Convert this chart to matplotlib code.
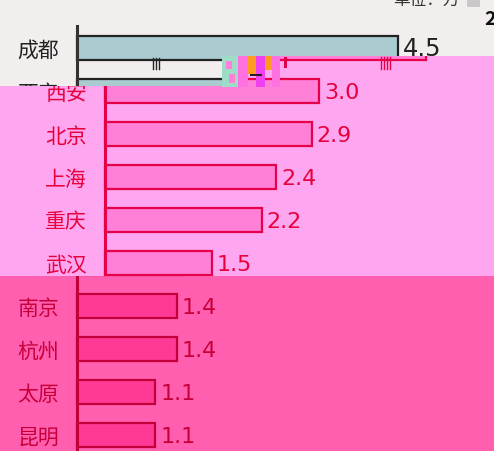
import matplotlib
matplotlib.use("Agg")
import matplotlib.pyplot as plt
from matplotlib.patches import Rectangle
from matplotlib.transforms import Bbox, TransformedBbox

plt.rcParams['font.family'] = ['Noto Sans CJK SC', 'DejaVu Sans']

cities = ['成都', '西安', '北京', '上海', '重庆', '武汉', '南京', '杭州', '太原', '昆明']
values = [4.5, 3.0, 2.9, 2.4, 2.2, 1.5, 1.4, 1.4, 1.1, 1.1]
unit_label = '单位：万'

W, H = 494, 452
fig = plt.figure(figsize=(W / 100, H / 100), dpi=100)

# pixel layout of the chart
X0, PX_PER_UNIT = 77, 71.3
Y0, ROW = 49, 43


def px_box(x0, y0, x1, y1):
    return TransformedBbox(Bbox.from_extents(x0 / W, 1 - y1 / H, x1 / W, 1 - y0 / H),
                           fig.transFigure)


def draw_layer(clip, dx, rows, bg, bar, edge, ink, spine, num_size=16):
    ax = fig.add_axes([dx / W, 0, 1, 1])
    ax.set_axis_off()
    artists = []
    artists.append(ax.add_patch(Rectangle((0, 0), 1, 1, transform=fig.transFigure,
                                          facecolor=bg, edgecolor='none')))
    pos = list(rows)
    vals = [values[i] for i in rows]
    bars = ax.barh(pos, vals, height=0.56, color=bar, edgecolor=edge, linewidth=1.6)
    artists.extend(bars.patches)
    artists.extend(ax.plot([0, 0], [-0.52, 10], color=spine, lw=2.2))
    for i in rows:
        artists.append(ax.text(-0.25, i + 0.04, cities[i], ha='right', va='center',
                               fontsize=15, color=ink))
        artists.append(ax.text(values[i] + 0.07, i + 0.16, f'{values[i]:.1f}',
                               ha='left', va='baseline', fontsize=num_size, color=ink,
                               family='DejaVu Sans'))
    ax.set_xlim(-X0 / PX_PER_UNIT, (W - X0) / PX_PER_UNIT)
    ax.set_ylim((H - Y0) / ROW, -Y0 / ROW)
    if clip is not None:
        for a in artists:
            a.set_clip_on(True)
            a.set_clip_box(clip)
    return ax


# plain layer
draw_layer(px_box(0, 0, W, 90), 0, [0, 1], '#f3eeee', '#aacbcf', '#222222', '#222222', '#333333',
           num_size=17.5)
fig.text(393 / W, 1 - 5 / H, unit_label, fontsize=12, color='#333333', va='baseline')
fig.patches.append(Rectangle((467 / W, 1 - 8 / H), 13 / W, 8 / H, transform=fig.transFigure,
                             facecolor='#c8c8c8', edgecolor='none'))
fig.text(484 / W, 1 - 25 / H, '2', fontsize=14, fontweight='bold', color='#111111')

# light pink band, shifted right
pink = dict(bg='#ffa6f0', bar='#ff80d6', edge='#e6004a', ink='#e8003c', spine='#e6004a')
draw_layer(px_box(222, 57, W, 87), 28, [0, 1], **pink)
draw_layer(px_box(0, 87, W, 277), 28, [1, 2, 3, 4, 5], **pink)

# hot pink band
draw_layer(px_box(0, 277, W, H), 0, [5, 6, 7, 8, 9],
           '#ff5fae', '#ff3a96', '#c4003a', '#c8003a', '#c4003a')

# broken blocks between the bands
blocks = [
    (222, 57, 16, 31, '#9fdcc8'),
    (226, 62, 6, 8, '#ff80d6'),
    (229, 75, 6, 9, '#ff80d6'),
    (238, 57, 10, 31, '#ff70e0'),
    (248, 57, 8, 18, '#ff9a20'),
    (256, 57, 9, 31, '#f040f0'),
    (265, 57, 7, 14, '#ff9a20'),
    (272, 57, 8, 31, '#ff70e0'),
    (284, 58, 3, 11, '#e6004a'),
    (250, 75, 12, 2, '#222222'),
]
for x, y, w, h, c in blocks:
    fig.patches.append(Rectangle((x / W, 1 - (y + h) / H), w / W, h / H,
                                 transform=fig.transFigure, facecolor=c, edgecolor='none'))
for x in (381, 384, 387, 390):
    fig.lines.append(plt.Line2D([x / W, x / W], [1 - 58 / H, 1 - 70 / H],
                                transform=fig.transFigure, color='#e6004a', lw=1))
for x in (153, 156, 159):
    fig.lines.append(plt.Line2D([x / W, x / W], [1 - 59 / H, 1 - 70 / H],
                                transform=fig.transFigure, color='#222222', lw=1))

fig.savefig('out.png', dpi=100)
